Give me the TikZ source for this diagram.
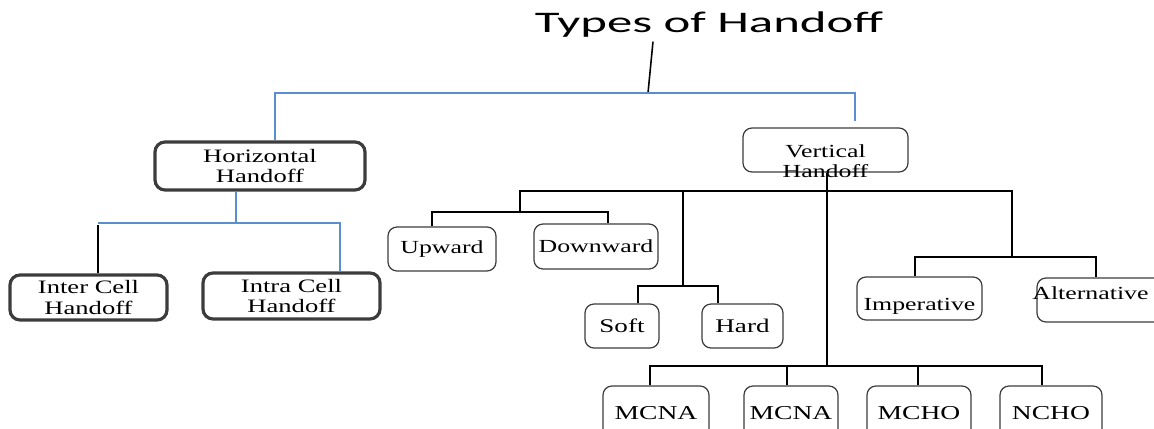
\documentclass[tikz,border=0pt]{standalone}
\usepackage{fontspec}
\setmainfont{Liberation Serif}[FakeStretch=1.4]
\newfontfamily\titlefont{Carlito}[FakeStretch=1.7]
\usetikzlibrary{positioning, calc}
\definecolor{linkblue}{RGB}{91,142,208}
\definecolor{boxgray}{RGB}{60,60,60}
\tikzset{
  thickbox/.style={draw=boxgray, line width=1.8pt, rounded corners=0.2cm, inner sep=0pt, align=center, font=\fontsize{10.8}{11.5}\selectfont},
  thinbox/.style={draw=boxgray, line width=0.7pt, rounded corners=0.18cm, inner sep=0pt, align=center, font=\fontsize{10.5}{11.5}\selectfont},
  blueline/.style={draw=linkblue, line width=0.9pt},
  treeline/.style={draw=black, line width=0.9pt}
}
\begin{document}
\begin{tikzpicture}
            \useasboundingbox (0,0) rectangle (23.08,8.58);
            \node[font=\titlefont\fontsize{17}{20}\selectfont, anchor=base, inner sep=2pt] (title) at (14.18,7.92){Types of Handoff};
            % horizontal side
            \node[thickbox, minimum width=4.2cm, minimum height=0.96cm] (horiz) at (5.2,5.26){Horizontal\\Handoff};
            \node[thickbox, minimum width=3.14cm, minimum height=0.9cm] (inter) at (1.77,2.63){Inter Cell\\Handoff};
            \node[thickbox, minimum width=3.54cm, minimum height=0.92cm] (intra) at (5.83,2.66){Intra Cell\\Handoff};
            % vertical side
            \node[thinbox, minimum width=3.3cm, minimum height=0.88cm] (vert) at (16.51,5.58){\raisebox{-0.36cm}[0pt][0pt]{\begin{tabular}{@{}c@{}}Vertical\\Handoff\end{tabular}}};
            \node[thinbox, minimum width=2.16cm, minimum height=0.88cm] (upward) at (8.84,3.6){Upward};
            \node[thinbox, minimum width=2.48cm, minimum height=0.9cm] (downward) at (11.92,3.65){Downward};
            \node[thinbox, minimum width=1.48cm, minimum height=0.88cm, font=\fontsize{11}{12}\selectfont] (soft) at (12.44,2.06){Soft};
            \node[thinbox, minimum width=1.62cm, minimum height=0.88cm, font=\fontsize{11}{12}\selectfont] (hard) at (14.85,2.06){Hard};
            \node[thinbox, minimum width=2.5cm, minimum height=0.86cm] (imper) at (18.39,2.61){\raisebox{-0.24cm}[0pt][0pt]{Imperative}};
            \node[thinbox, minimum width=2.66cm, minimum height=0.88cm] (alter) at (22.07,2.58){\raisebox{0pt}[0pt][0pt]{\hspace*{-0.52cm}Alternative}};
            \node[thinbox, minimum width=2.12cm, minimum height=1.08cm, font=\fontsize{11.2}{12}\selectfont] (mcnaa) at (13.12,0.32){MCNA};
            \node[thinbox, minimum width=1.88cm, minimum height=1.08cm, font=\fontsize{11.2}{12}\selectfont] (mcnab) at (15.82,0.32){MCNA};
            \node[thinbox, minimum width=2.08cm, minimum height=1.08cm, font=\fontsize{11.2}{12}\selectfont] (mcho) at (18.38,0.32){MCHO};
            \node[thinbox, minimum width=2.04cm, minimum height=1.08cm, font=\fontsize{11.2}{12}\selectfont] (ncho) at (21.02,0.32){NCHO};
            % junctions
            \coordinate (topbus) at (12.96,6.72);
            \coordinate (hbus) at (4.72,4.12);
            \coordinate (vbus) at (16.54,4.76);
            \coordinate (udj) at (10.4,4.34);
            \coordinate (shj) at (13.66,2.86);
            \coordinate (iaj) at (20.24,3.44);
            \coordinate (mj) at (16.54,1.26);
            % top level
            \draw[treeline] ([xshift=-1.12cm]title.south) -- (topbus);
            \draw[blueline] ([xshift=0.3cm]horiz.north) |- (topbus) -| ([xshift=0.59cm,yshift=0.12cm]vert.north);
            % horizontal branches
            \draw[blueline] ([xshift=-0.48cm]horiz.south) -- (hbus);
            \draw[blueline] (hbus) -| ([xshift=0.97cm]intra.north);
            \draw[treeline] ([xshift=0.19cm]inter.north) -- ++(0,0.96) coordinate (ic);
            \draw[blueline] (hbus) -- (hbus -| ic);
            % vertical branches
            \draw[treeline] ([xshift=0.03cm]vert.south) -- (mj);
            \draw[treeline] (udj) -- (udj |- vbus) -- (iaj |- vbus) -- (iaj);
            \draw[treeline] (shj) -- (shj |- vbus);
            \draw[treeline] ([xshift=-0.2cm]upward.north) |- (udj) -| ([xshift=0.24cm]downward.north);
            \draw[treeline] ([xshift=0.32cm]soft.north) |- (shj) -| ([xshift=-0.49cm]hard.north);
            \draw[treeline] ([xshift=-0.09cm]imper.north) |- (iaj) -| ([xshift=-0.15cm]alter.north);
            \draw[treeline] ([xshift=-0.12cm]mcnaa.north) |- (mj) -| ([xshift=-0.18cm]ncho.north);
            \foreach \n/\s in {mcnab/-0.08, mcho/-0.02}
                \draw[treeline] ([xshift=\s cm]\n.north) -- ++(0,0.4);
        \end{tikzpicture}
\end{document}
